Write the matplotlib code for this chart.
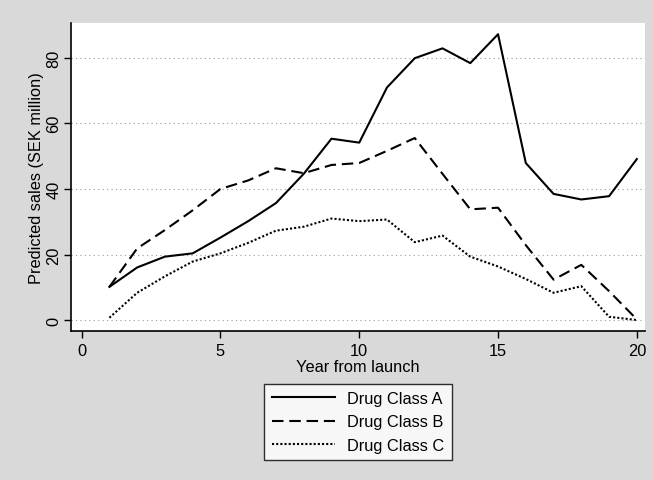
import matplotlib.pyplot as plt

plt.rcParams['font.family'] = ['Liberation Sans', 'DejaVu Sans']
plt.rcParams['font.size'] = 11.8

# predicted sales per year after launch (SEK million)
years = list(range(1, 21))
class_a = [10.2, 16.1, 19.4, 20.4, 25.2, 30.2, 35.7, 44.6, 55.3, 54.1,
           70.9, 79.8, 82.8, 78.3, 87.1, 47.9, 38.5, 36.8, 37.8, 49.1]
class_b = [10.2, 21.9, 27.5, 33.5, 40.0, 42.6, 46.3, 44.8, 47.3, 47.9,
           51.6, 55.5, 44.6, 33.8, 34.3, 22.9, 12.4, 16.9, 8.9, 0.3]
class_c = [0.8, 8.4, 13.4, 17.9, 20.4, 23.6, 27.3, 28.5, 31.0, 30.2,
           30.7, 23.8, 25.8, 19.4, 16.4, 12.6, 8.4, 10.4, 1.1, 0.1]
series_names = ['Drug Class A', 'Drug Class B', 'Drug Class C']

xticks = [0, 5, 10, 15, 20]
yticks = [0, 20, 40, 60, 80]

fig = plt.figure(figsize=(6.53, 4.81), dpi=100, facecolor='#d9d9d9')
ax = fig.add_axes([0.108, 0.310, 0.880, 0.640])
ax.set_facecolor('white')

ax.plot(years, class_a, color='black', lw=1.5, ls='-', label=series_names[0])
ax.plot(years, class_b, color='black', lw=1.5, ls=(0, (5.5, 2.8)), label=series_names[1])
ax.plot(years, class_c, color='black', lw=1.5, ls=(0, (1, 1)), label=series_names[2])

ax.set_xlim(-0.4, 20.3)
ax.set_ylim(-3.2, 90.5)
ax.set_xticks(xticks)
ax.set_yticks(yticks)
ax.tick_params(direction='out', length=5, width=1, color='black')
ax.tick_params(axis='y', pad=1.5)
for lab in ax.get_yticklabels():
    lab.set_rotation(90)
    lab.set_va('center')

ax.grid(axis='y', color='#9a9a9a', ls=(0, (1, 3)), lw=0.8)
ax.set_axisbelow(True)

for side in ['top', 'right']:
    ax.spines[side].set_visible(False)
for side in ['left', 'bottom']:
    ax.spines[side].set_linewidth(1.2)

ax.set_xlabel('Year from launch', labelpad=1)
ax.set_ylabel('Predicted sales (SEK million)', labelpad=2)

leg = ax.legend(loc='upper center', bbox_to_anchor=(0.5, -0.172), ncol=1,
                frameon=True, fancybox=False, edgecolor='black',
                handlelength=3.9, handletextpad=0.7, labelspacing=0.5,
                borderpad=0.45, borderaxespad=0)
leg.get_frame().set_linewidth(1.0)

fig.savefig('out.png', dpi=100, facecolor=fig.get_facecolor())
